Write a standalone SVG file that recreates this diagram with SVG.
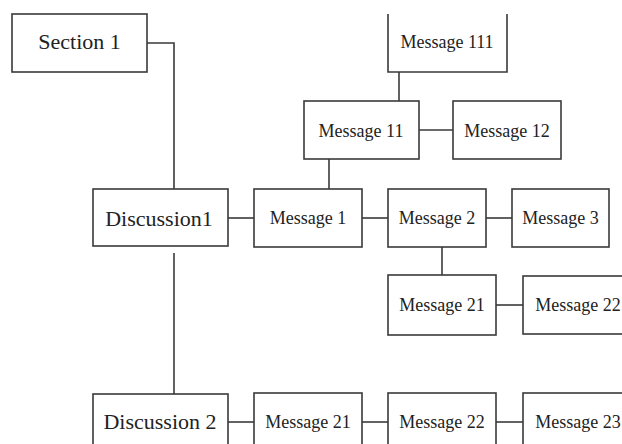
<svg xmlns="http://www.w3.org/2000/svg" width="622" height="444" viewBox="0 0 622 444">
<style>
.box{fill:#fff;stroke:#3a3a3a;stroke-width:1.6}
.ln{fill:none;stroke:#3a3a3a;stroke-width:1.6}
.big{font-family:"Liberation Serif","Times New Roman",serif;font-size:22px;fill:#222;text-anchor:middle}
.sm{font-family:"Liberation Serif","Times New Roman",serif;font-size:18px;fill:#222;text-anchor:middle}
</style>
<rect width="622" height="444" fill="#fff"/>
<g id="connectors" class="ln">
<path d="M147,43 H174 V189"/>
<path d="M174,253 V394"/>
<path d="M228,218 H254"/>
<path d="M228,422 H254"/>
<path d="M329,159 V189"/>
<path d="M399,72 V101"/>
<path d="M419,130 H453"/>
<path d="M362,218 H388"/>
<path d="M486,218 H512"/>
<path d="M442,247 V275"/>
<path d="M496,305 H523"/>
<path d="M362,422 H388"/>
<path d="M496,422 H523"/>
</g>
<g id="section1"><rect class="box" x="12" y="14" width="135" height="58"/><text class="big" x="79.5" y="49">Section 1</text></g>
<g id="discussion1"><rect class="box" x="93" y="189" width="135" height="57"/><text class="big" x="159" y="226">Discussion1</text></g>
<g id="discussion2"><rect class="box" x="93" y="394" width="135" height="60"/><text class="big" x="160" y="429">Discussion 2</text></g>
<g id="message111"><path class="box" d="M388,14 V72 H507 V14"/><text class="sm" x="447" y="48">Message 111</text></g>
<g id="message11"><rect class="box" x="304" y="101" width="115" height="58"/><text class="sm" x="361" y="137">Message 11</text></g>
<g id="message12"><rect class="box" x="453" y="101" width="108" height="58"/><text class="sm" x="507" y="137">Message 12</text></g>
<g id="message1"><rect class="box" x="254" y="189" width="108" height="58"/><text class="sm" x="308" y="224">Message 1</text></g>
<g id="message2"><rect class="box" x="388" y="189" width="98" height="58"/><text class="sm" x="437" y="224">Message 2</text></g>
<g id="message3"><rect class="box" x="512" y="189" width="97" height="58"/><text class="sm" x="560.5" y="224">Message 3</text></g>
<g id="message21a"><rect class="box" x="388" y="275" width="108" height="60"/><text class="sm" x="442" y="311">Message 21</text></g>
<g id="message22a"><rect class="box" x="523" y="276" width="110" height="58"/><text class="sm" x="578" y="311">Message 22</text></g>
<g id="message21b"><rect class="box" x="254" y="393" width="108" height="60"/><text class="sm" x="308" y="428">Message 21</text></g>
<g id="message22b"><rect class="box" x="388" y="393" width="108" height="60"/><text class="sm" x="442" y="428">Message 22</text></g>
<g id="message23"><rect class="box" x="523" y="393" width="110" height="60"/><text class="sm" x="578" y="428">Message 23</text></g>
</svg>
